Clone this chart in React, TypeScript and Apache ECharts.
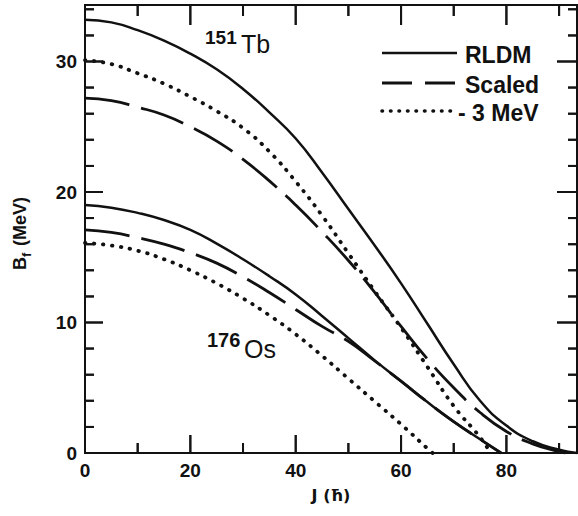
import React, { useEffect, useRef } from 'react';
import * as echarts from 'echarts';

// ---- data (J in units of hbar, B_f in MeV) ----
const jTbRldm = [0, 5, 10, 15, 20, 25, 30, 35, 40, 45, 50, 55, 60, 65, 70, 75, 80, 85, 90, 93.4];
const bTbRldm = [33.2, 33.0, 32.4, 31.6, 30.6, 29.4, 27.9, 26.1, 24.1, 21.5, 18.7, 15.9, 13.0, 9.9, 6.8, 4.0, 2.1, 0.9, 0.25, 0];

const jTbScaled = [0, 5, 10, 15, 20, 25, 30, 35, 40, 45, 50, 55, 60, 65, 70, 75, 80, 85, 90, 91.5];
const bTbScaled = [27.2, 27.0, 26.5, 25.9, 25.0, 23.9, 22.5, 20.85, 19.0, 16.95, 14.75, 12.3, 9.7, 7.2, 5.0, 3.1, 1.65, 0.7, 0.1, 0];

const jTbMinus3 = [0, 5, 10, 15, 20, 25, 30, 35, 40, 45, 50, 55, 60, 65, 70, 75, 77];
const bTbMinus3 = [30.1, 29.8, 29.1, 28.3, 27.3, 26.2, 24.9, 23.1, 20.8, 18.2, 15.3, 12.4, 9.6, 6.6, 3.6, 1.2, 0];

const jOsRldm = [0, 5, 10, 15, 20, 25, 30, 35, 40, 45, 50, 55, 60, 65, 70, 75, 79];
const bOsRldm = [19.0, 18.8, 18.4, 17.85, 17.1, 16.05, 14.85, 13.55, 12.15, 10.5, 8.8, 7.1, 5.5, 3.9, 2.4, 1.05, 0];

const jOsScaled = [0, 5, 10, 15, 20, 25, 30, 35, 40, 45, 50, 55, 60, 65, 70, 75, 79];
const bOsScaled = [17.1, 16.9, 16.5, 16.0, 15.35, 14.55, 13.5, 12.3, 11.0, 9.7, 8.55, 7.05, 5.5, 3.9, 2.4, 1.05, 0];

const jOsMinus3 = [0, 5, 10, 15, 20, 25, 30, 35, 40, 45, 50, 55, 60, 65, 66];
const bOsMinus3 = [16.1, 15.9, 15.5, 14.85, 14.0, 13.0, 11.85, 10.55, 9.1, 7.45, 5.7, 3.95, 2.2, 0.35, 0];

// axis ticks and labels
const xTickValues = [10, 20, 30, 40, 50, 60, 70, 80, 90];
const xTickLabels = [0, 20, 40, 60, 80];
const yTickValues = [2, 4, 6, 8, 10, 12, 14, 16, 18, 20, 22, 24, 26, 28, 30, 32, 34];
const yTickLabels = [0, 10, 20, 30];
const legendLabels = ['RLDM', 'Scaled', '- 3 MeV'];

const zip = (js: number[], bs: number[]) => js.map((j, i) => [j, bs[i]]);

const INK = '#111111';
const TICK_INK = '#141414';
const FONT = '"Liberation Sans", Arial, Helvetica, sans-serif';
const X_MAX = 93.4;
const Y_MAX = 34.33;
const GRID = { left: 85, top: 5, width: 492, height: 448 };
const pxToJ = (p: number) => (p * X_MAX) / GRID.width;
const pxToB = (p: number) => (p * Y_MAX) / GRID.height;

const SOLID = { color: INK, width: 2.5, type: 'solid' as const };
const DASHED = { color: INK, width: 2.8, type: [45, 12], cap: 'butt' as const };
const DOTTED = { color: INK, width: 3.8, type: [0.5, 8.5], cap: 'round' as const };
const TICK = { color: TICK_INK, width: 2, type: 'solid' as const };

const labelStyle = {
  color: INK,
  fontSize: 19,
  fontWeight: 'bold',
  fontFamily: FONT,
};

export default function App() {
  const ref = useRef<HTMLDivElement>(null);

  useEffect(() => {
    if (!ref.current) return;
    const chart = echarts.init(ref.current, undefined, { renderer: 'svg' });

    const mk = (name: string, data: number[][], ls: any, smooth: number, z = 3) => ({
      name,
      type: 'line',
      data,
      showSymbol: false,
      symbol: 'none',
      smooth,
      lineStyle: ls,
      silent: true,
      clip: false,
      z,
    });

    // Tick marks: one custom series per side, each item a single rect placed via the axes' scales.
    const tickSide = (side: 'b' | 't' | 'l' | 'r') => ({
      type: 'custom',
      name: 'ticks-' + side,
      silent: true,
      clip: false,
      z: 5,
      data: (side === 'b' || side === 't' ? xTickValues : yTickValues).map((v) =>
        side === 'b' ? [v, 0] : side === 't' ? [v, Y_MAX] : side === 'l' ? [0, v] : [X_MAX, v]
      ),
      renderItem: (_p: any, api: any) => {
        const x = api.value(0);
        const y = api.value(1);
        const p = api.coord([x, y]);
        if (side === 'b') {
          const len = x % 20 === 0 ? 18 : 10;
          return { type: 'rect', shape: { x: p[0] - 1, y: p[1] - len, width: 2, height: len }, style: { fill: TICK_INK } };
        }
        if (side === 't') {
          const len = x % 20 === 0 ? 20 : 11;
          return { type: 'rect', shape: { x: p[0] - 1, y: p[1], width: 2, height: len }, style: { fill: TICK_INK } };
        }
        if (side === 'l') {
          const len = y % 10 === 0 ? 18 : 9;
          return { type: 'rect', shape: { x: p[0], y: p[1] - 1, width: len, height: 2 }, style: { fill: TICK_INK } };
        }
        const len = y % 10 === 0 ? 20 : 9;
        return { type: 'rect', shape: { x: p[0] - len, y: p[1] - 1, width: len, height: 2 }, style: { fill: TICK_INK } };
      },
    });

    // Backup ticks as three-point line series (drawn underneath the rects).
    const lineTicks: any[] = [];
    xTickValues.forEach((v) => {
      const lb = pxToB(v % 20 === 0 ? 18 : 10);
      const lt = pxToB(v % 20 === 0 ? 20 : 11);
      lineTicks.push(mk('tb-' + v, [[v, 0], [v, lb / 2], [v, lb]], TICK, 0, 4));
      lineTicks.push(mk('tt-' + v, [[v, Y_MAX], [v, Y_MAX - lt / 2], [v, Y_MAX - lt]], TICK, 0, 4));
    });
    yTickValues.forEach((v) => {
      const ll = pxToJ(v % 10 === 0 ? 18 : 9);
      const lr = pxToJ(v % 10 === 0 ? 20 : 9);
      lineTicks.push(mk('tl-' + v, [[0, v], [ll / 2, v], [ll, v]], TICK, 0, 4));
      lineTicks.push(mk('tr-' + v, [[X_MAX, v], [X_MAX - lr / 2, v], [X_MAX - lr, v]], TICK, 0, 4));
    });

    const legendY = [53, 83, 111];
    const legendStyles = [
      { stroke: INK, lineWidth: 2.5 },
      { stroke: INK, lineWidth: 2.8, lineDash: [30, 13] },
      { stroke: INK, lineWidth: 3.6, lineDash: [0.5, 8], lineCap: 'round' },
    ];
    const graphics: any[] = [];
    legendLabels.forEach((lab, i) => {
      graphics.push({
        type: 'line',
        shape: { x1: 382, y1: legendY[i], x2: 457, y2: legendY[i] },
        style: legendStyles[i],
        silent: true,
      });
      graphics.push({
        type: 'text',
        x: i === 2 ? 458 : 465,
        y: legendY[i] + 1.5,
        style: { text: lab, fill: INK, fontSize: 23, fontWeight: 'bold', fontFamily: FONT, align: 'left', verticalAlign: 'middle' },
        silent: true,
      });
    });

    const txt = (text: string, x: number, y: number, size: number, weight: string) => ({
      type: 'text',
      x,
      y,
      style: { text, fill: INK, fontSize: size, fontWeight: weight, fontFamily: FONT, align: 'left', verticalAlign: 'middle' },
      silent: true,
    });

    graphics.push(
      txt('151', 205, 37, 19, 'bold'),
      txt('Tb', 241, 44, 25, 'normal'),
      txt('176', 207, 340, 20, 'bold'),
      txt('Os', 244, 349, 25, 'normal'),
      {
        type: 'group',
        x: 26,
        y: 229,
        rotation: Math.PI / 2,
        silent: true,
        children: [
          { type: 'text', x: -41, y: -6.5, style: { text: 'B', fill: INK, fontSize: 18, fontWeight: 'bold', fontFamily: FONT, align: 'left', verticalAlign: 'middle' } },
          { type: 'text', x: -28, y: 0, style: { text: 'f', fill: INK, fontSize: 13, fontWeight: 'bold', fontFamily: FONT, align: 'left', verticalAlign: 'middle' } },
          { type: 'text', x: -22, y: -6.5, style: { text: ' (MeV)', fill: INK, fontSize: 18, fontWeight: 'bold', fontFamily: FONT, align: 'left', verticalAlign: 'middle' } },
        ],
      }
    );

    const option: any = {
      animation: false,
      backgroundColor: '#ffffff',
      grid: { ...GRID, containLabel: false, show: true, borderColor: INK, borderWidth: 2, backgroundColor: 'transparent' },
      xAxis: {
        type: 'value',
        min: 0,
        max: X_MAX,
        interval: 20,
        axisLine: { show: true, onZero: false, lineStyle: { color: INK, width: 2 } },
        axisTick: { show: false },
        splitLine: { show: false },
        axisLabel: {
          ...labelStyle,
          margin: 8,
          showMaxLabel: false,
          formatter: (v: number) => (xTickLabels.indexOf(v) >= 0 ? String(v) : ''),
        },
        name: 'J (ħ)',
        nameLocation: 'middle',
        nameGap: 34,
        nameTextStyle: { color: INK, fontSize: 16, fontWeight: 'bold', fontFamily: '"DejaVu Sans", sans-serif' },
      },
      yAxis: {
        type: 'value',
        min: 0,
        max: Y_MAX,
        interval: 10,
        axisLine: { show: true, onZero: false, lineStyle: { color: INK, width: 2 } },
        axisTick: { show: false },
        splitLine: { show: false },
        axisLabel: {
          ...labelStyle,
          margin: 8,
          showMaxLabel: false,
          formatter: (v: number) => (yTickLabels.indexOf(v) >= 0 ? String(v) : ''),
        },
      },
      series: [
        mk('151Tb RLDM', zip(jTbRldm, bTbRldm), SOLID, 0.5),
        mk('151Tb Scaled', zip(jTbScaled, bTbScaled), DASHED, 0.5),
        mk('151Tb -3 MeV', zip(jTbMinus3, bTbMinus3), DOTTED, 0.5),
        mk('176Os RLDM', zip(jOsRldm, bOsRldm), SOLID, 0.5),
        mk('176Os Scaled', zip(jOsScaled, bOsScaled), DASHED, 0.5),
        mk('176Os -3 MeV', zip(jOsMinus3, bOsMinus3), DOTTED, 0.5),
        ...lineTicks,
        tickSide('b'),
        tickSide('t'),
        tickSide('l'),
        tickSide('r'),
      ],
      graphic: graphics,
    };

    chart.setOption(option);
    return () => chart.dispose();
  }, []);

  return <div ref={ref} style={{ position: 'fixed', left: 0, top: 0, width: 578, height: 516, background: '#ffffff' }} />;
}
